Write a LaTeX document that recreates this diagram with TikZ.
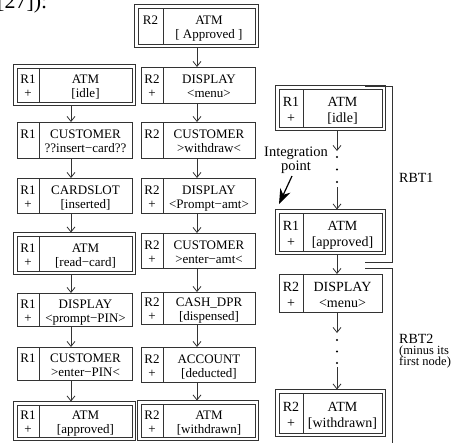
\documentclass[tikz,border=0pt]{standalone}
\usepackage{fontspec}
\setmainfont{Liberation Serif}
\usetikzlibrary{arrows.meta,fit,calc}
\tikzset{
  bx/.style={draw=black!80, line width=0.8pt, inner sep=0pt, outer sep=0pt},
  fa/.style={font=\fontsize{13}{14}\selectfont},
  fb/.style={font=\fontsize{14}{16}\selectfont},
  ft/.style={fa},
  arr/.style={draw=black!80, line width=0.8pt, -{Straight Barb[length=5pt,width=8pt]}},
  dotn/.style={circle, fill=black, inner sep=0pt, minimum size=2.4pt},
  lbl/.style={font=\fontsize{14}{16}\selectfont, inner sep=0pt},
  sml/.style={font=\fontsize{12.5}{11}\selectfont, inner sep=0pt},
}
% name, left, top, width, height, divider offset, R-label, line1, line2
\newcommand\mybox[9]{%
  \node[bx, anchor=north west, minimum width=#4, minimum height=#5] (#1) at (#2,#3) {};
  \draw[draw=black!80, line width=0.8pt] ([xshift=#6 pt]#1.north west) -- ([xshift=#6 pt]#1.south west);
  \node[ft, align=center, inner sep=0pt] (#1r) at ($(#1.west)+(#6/2,2.8)$) {#7};
  \node[ft, align=center, inner sep=0pt] (#1t) at ($(#1.west)!0.5!(#1.east)+(#6/2,2.8)$) {#8\strut\\\strut #9};
}
\newcommand\mydbox[9]{%
  \mybox{#1i}{#2}{#3}{#4}{#5}{#6}{#7}{#8}{#9}%
  \node[bx, fit=(#1i), inner sep=3.5pt] (#1) {};
}
\newcommand\Rp[1]{R#1\strut\\\strut +}
\newcommand\Rn[1]{R#1\strut\\\strut}
\begin{document}
\begin{tikzpicture}[x=1pt,y=-1pt]
\useasboundingbox (0,0) rectangle (470,442);
\fill[white] (0,0) rectangle (470,442);
\node[anchor=base west, inner sep=0pt, font=\fontsize{22}{24}\selectfont] (ref) at (-3,8) {[27]):};

% column 1
\mydbox{L1}{17}{68}{115}{34}{22}{\Rp1}{ATM}{[idle]}
\mybox{L2}{17}{122}{115}{36}{22}{\Rn1}{CUSTOMER}{??insert−card??}
\mybox{L3}{17}{178}{115}{35}{22}{\Rp1}{CARDSLOT}{[inserted]}
\mydbox{L4}{17}{236}{115}{35}{22}{\Rp1}{ATM}{[read−card]}
\mybox{L5}{17}{293}{115}{33}{22}{\Rp1}{DISPLAY}{<prompt−PIN>}
\mybox{L6}{17}{347}{115}{33}{22}{\Rn1}{CUSTOMER}{>enter−PIN<}
\mydbox{L7}{17}{405}{115}{32}{22}{\Rp1}{ATM}{[approved]}
\foreach \a/\b in {L1/L2,L2/L3,L3/L4,L4/L5,L5/L6,L6/L7}
  \draw[arr] ([xshift=-3.5pt]\a.south) -- ([xshift=-3.5pt]\b.north);

% column 2
\mydbox{M0}{138}{8}{117}{36}{25}{\Rn2}{ATM}{[ Approved ]}
\mybox{M1}{141}{67}{114}{36}{22}{\Rp2}{DISPLAY}{<menu>}
\mybox{M2}{141}{122}{114}{36}{22}{\Rn2}{CUSTOMER}{>withdraw<}
\mybox{M3}{141}{178}{114}{35}{22}{\Rp2}{DISPLAY}{<Prompt−amt>}
\mybox{M4}{141}{233}{114}{35}{22}{\Rp2}{CUSTOMER}{>enter−amt<}
\mybox{M5}{141}{292}{114}{32}{22}{\Rp2}{CASH\_DPR}{[dispensed]}
\mybox{M6}{141}{347}{114}{35}{22}{\Rp2}{ACCOUNT}{[deducted]}
\mydbox{M7}{141}{404}{114}{33}{22}{\Rp2}{ATM}{[withdrawn]}
\draw[arr] ([xshift=0.5pt]M0.south) -- ([xshift=-1pt]M1.north);
\foreach \a/\b in {M1/M2,M2/M3,M3/M4,M4/M5,M5/M6,M6/M7}
  \draw[arr] ([xshift=-1pt]\a.south) -- ([xshift=-1pt]\b.north);

% column 3
\tikzset{ft/.style={fb}}
\mydbox{A}{279}{89}{103}{38}{24}{\Rp1}{ATM}{[idle]}
\mydbox{B}{279}{213}{103}{38}{24}{\Rp1}{ATM}{[approved]}
\mybox{C}{279}{274}{103}{38}{24}{\Rp2}{DISPLAY}{<menu>}
\mydbox{D}{279}{393}{103}{40}{24}{\Rp2}{ATM}{[withdrawn]}

\coordinate (a1) at (337,151);
\node[dotn] (p1) at (337,157) {};
\node[dotn] (p2) at (337,169.5) {};
\node[dotn] (p3) at (337,182) {};
\coordinate (a2) at (337,187);
\draw[arr] ([xshift=6.5pt]A.south) -- (a1);
\draw[arr] (a2) -- ([xshift=6.5pt]B.north);
\draw[arr] ([xshift=6.5pt]B.south) -- ([xshift=6.5pt]C.north);
\coordinate (c1) at (337,333);
\node[dotn] (q1) at (337,340) {};
\node[dotn] (q2) at (337,351.5) {};
\node[dotn] (q3) at (337,363) {};
\coordinate (c2) at (337,367);
\draw[arr] ([xshift=6.5pt]C.south) -- (c1);
\draw[arr] (c2) -- ([xshift=6.5pt]D.north);

% integration point
\node[anchor=base, inner sep=0pt, font=\fontsize{14.5}{14}\selectfont] (int1) at (296,156) {Integration};
\node[anchor=base, inner sep=0pt, font=\fontsize{14.5}{14}\selectfont] (int2) at (296,170) {point};
\coordinate (ip0) at (292,176);
\coordinate (ip1) at (279,204);
\draw[line width=1.2pt, -{Stealth[length=15pt,width=11pt]}] (ip0) -- (ip1);

% brackets
\coordinate (r1a) at (365,86);
\coordinate (r1b) at (392,86);
\coordinate (r1c) at (392,262);
\coordinate (r1d) at (365,262);
\draw[draw=black!80, line width=0.8pt] (r1a) -- (r1b) -- (r1c) -- (r1d);
\coordinate (r2a) at (365,268);
\coordinate (r2b) at (392,268);
\coordinate (r2c) at (392,450);
\draw[draw=black!80, line width=0.8pt] (r2a) -- (r2b) -- (r2c);
\node[lbl, anchor=base west] (rbt1) at (399,182) {RBT1};
\node[lbl, anchor=base west] (rbt2) at (399,343) {RBT2};
\node[sml, anchor=base west] (rbt2b) at (399,354) {(minus its};
\node[sml, anchor=base west] (rbt2c) at (399,365) {first node)};
\end{tikzpicture}
\end{document}
